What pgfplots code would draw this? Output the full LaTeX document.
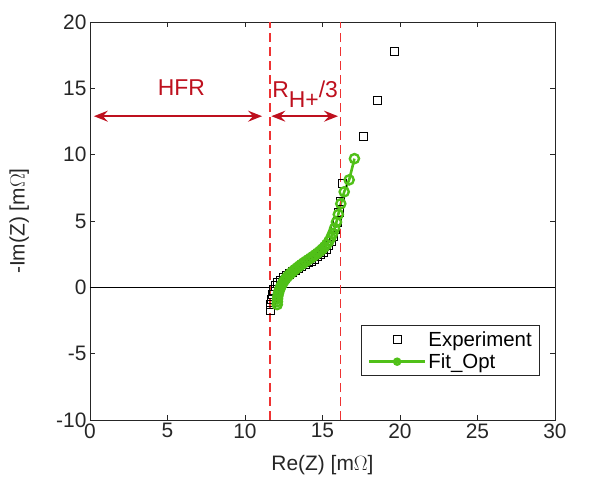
\documentclass[border=0pt]{standalone}
\usepackage{pgfplots}
\pgfplotsset{compat=1.18}
\usepackage{fontspec}
\setmainfont{Liberation Sans}
\usetikzlibrary{arrows.meta}
\definecolor{fitgreen}{RGB}{80,192,24}
\definecolor{annred}{RGB}{190,16,30}
\definecolor{dashred}{RGB}{238,50,50}
\definecolor{axgray}{RGB}{38,38,38}
\begin{document}
\begin{tikzpicture}
\begin{axis}[
  scale only axis,
  width=465bp, height=398bp,
  xmin=0, xmax=30, ymin=-10, ymax=20,
  xtick={0,5,...,30}, ytick={-10,-5,...,20},
  tick align=inside,
  major tick length=5bp,
  axis line style={axgray, line width=0.8bp},
  every tick/.style={axgray, line width=0.8bp},
  /pgf/number format/assume math mode=true,
  tick label style={font=\fontsize{21}{25}\selectfont, text=axgray},
  xlabel={Re(Z) [m$\Omega$]},
  ylabel={-Im(Z) [m$\Omega$]},
  label style={font=\fontsize{21}{25}\selectfont, text=axgray},
  xlabel style={at={(axis description cs:0.5,-0.113)}, anchor=center},
  ylabel style={at={(axis description cs:-0.152,0.5)}, anchor=center, rotate=0},
  legend style={at={(0.968,0.11)}, anchor=south east, draw=axgray, line width=0.8bp,
    font=\fontsize{20.5}{24}\selectfont, inner xsep=6bp, inner ysep=4bp,
    row sep=2bp, cells={anchor=west}},
  clip=true,
]
\addplot[only marks, mark=square, mark size=4.2bp, black, line width=0.7bp,
  legend image code/.code={\draw[mark repeat=2,mark phase=2] plot coordinates {(0bp,0bp)(28bp,0bp)(56bp,0bp)};}]
  coordinates {
(11.65,-1.72) (11.68,-1.30) (11.72,-0.90) (11.78,-0.52) (11.86,-0.18)
(11.97,0.10) (12.12,0.33) (12.28,0.52) (12.46,0.70) (12.65,0.86)
(12.85,1.02) (13.05,1.17) (13.25,1.31) (13.45,1.45) (13.65,1.59)
(13.85,1.73) (14.05,1.87) (14.25,2.01) (14.45,2.16) (14.65,2.32)
(14.85,2.49) (15.04,2.68) (15.22,2.90) (15.39,3.16) (15.55,3.48)
(15.70,3.87) (15.83,4.35) (15.95,4.95) (16.06,5.65) (16.15,6.50)
(16.30,7.85)
(17.65,11.40) (18.55,14.10) (19.65,17.80)
};
\addlegendentry{Experiment}
\addplot[fitgreen, line width=2.6bp, mark=o, mark size=4.6bp,
  mark options={line width=2.4bp, fill=none},
  legend image code/.code={\draw[mark repeat=2,mark phase=2, mark size=3bp] plot coordinates {(0bp,0bp)(28bp,0bp)(56bp,0bp)};}]
  coordinates {
(12.08,-1.30) (12.09,-1.08) (12.10,-0.86) (12.12,-0.65) (12.16,-0.44)
(12.21,-0.24) (12.27,-0.05) (12.34,0.13) (12.42,0.30) (12.51,0.47)
(12.61,0.63) (12.72,0.78) (12.84,0.93) (12.96,1.07) (13.09,1.21)
(13.22,1.34) (13.36,1.47) (13.50,1.60) (13.64,1.72) (13.78,1.84)
(13.93,1.96) (14.08,2.08) (14.23,2.20) (14.38,2.32) (14.53,2.45)
(14.68,2.58) (14.83,2.72) (14.98,2.88) (15.13,3.05) (15.27,3.24)
(15.41,3.47) (15.54,3.74) (15.66,4.06) (15.78,4.45) (15.90,4.92)
(16.02,5.50) (16.18,6.30) (16.40,7.20) (16.72,8.10) (17.06,9.70)
};
\addlegendentry{Fit\_Opt}
\draw[black, line width=0.8bp] (axis cs:0,0) -- (axis cs:30,0);
\draw[dashred, line width=1.6bp, dash pattern=on 9bp off 5bp] (axis cs:11.6,-10) -- (axis cs:11.6,20);
\draw[dashred, line width=1.6bp, dash pattern=on 9bp off 5bp] (axis cs:16.15,-10) -- (axis cs:16.15,20);
\draw[annred, line width=1.6bp, {Stealth[length=14bp,width=11bp,inset=5bp]}-{Stealth[length=14bp,width=11bp,inset=5bp]}] (axis cs:0.25,12.9) -- (axis cs:11.1,12.9);
\draw[annred, line width=1.6bp, {Stealth[length=14bp,width=11bp,inset=5bp]}-{Stealth[length=14bp,width=11bp,inset=5bp]}] (axis cs:11.7,12.9) -- (axis cs:16.0,12.9);
\node[annred, font=\fontsize{23}{27}\selectfont] at (axis cs:5.9,15.05) {HFR};
\node[annred, font=\fontsize{23}{27}\selectfont, anchor=base west, inner sep=0pt] at (axis cs:11.75,14.3) {R\raisebox{-0.45em}{H+}/3};
\end{axis}
\path (-90bp,-71bp) rectangle (516bp,420bp);
\end{tikzpicture}
\end{document}
